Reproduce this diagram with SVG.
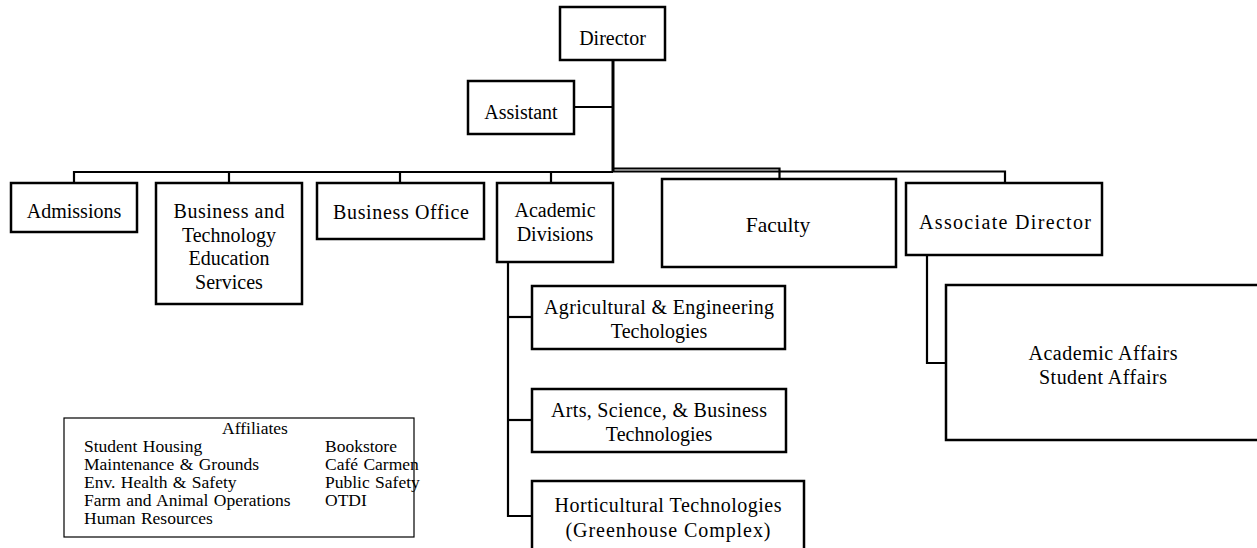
<svg xmlns="http://www.w3.org/2000/svg" width="1257" height="548" viewBox="0 0 1257 548">
<style>
.box{fill:#fff;stroke:#000;stroke-width:2.5}
.ln{fill:none;stroke:#000;stroke-width:2.2}
text{font-family:"Liberation Serif","Times New Roman",serif}
.t{font-size:20px;fill:#000;text-anchor:middle;dominant-baseline:central}
.a{font-size:17.5px;fill:#000;word-spacing:1px}
</style>
<rect width="1257" height="548" fill="#fff"/>
<g id="connectors">
<path class="ln" d="M613,60 V172" style="stroke-width:3"/>
<path class="ln" d="M574,107 H613"/>
<path class="ln" d="M74,183 V172 H613"/>
<path class="ln" d="M229,172 V183"/>
<path class="ln" d="M400,172 V183"/>
<path class="ln" d="M551,172 V183"/>
<path class="ln" d="M613,168.5 H779.5 V179"/>
<path class="ln" d="M613,171.5 H1005 V183"/>
<path class="ln" d="M508,262 V516 H532"/>
<path class="ln" d="M508,317 H532"/>
<path class="ln" d="M508,420 H532"/>
<path class="ln" d="M927,255 V363 H946"/>
</g>
<g id="director"><rect class="box" x="560" y="7" width="105" height="53"/><text class="t" x="612.5" y="37.5">Director</text></g>
<g id="assistant"><rect class="box" x="468" y="81" width="106" height="53"/><text class="t" x="521" y="111.5">Assistant</text></g>
<g id="admissions"><rect class="box" x="11" y="183" width="126" height="49"/><text class="t" x="74" y="211">Admissions</text></g>
<g id="btes"><rect class="box" x="156" y="183" width="146" height="121"/>
<text class="t" x="229" y="211" textLength="111" lengthAdjust="spacing">Business and</text>
<text class="t" x="229" y="234.5">Technology</text>
<text class="t" x="229" y="258">Education</text>
<text class="t" x="229" y="281.5">Services</text></g>
<g id="business-office"><rect class="box" x="317" y="183" width="167" height="56"/><text class="t" x="401" y="212" textLength="136" lengthAdjust="spacing">Business Office</text></g>
<g id="academic-divisions"><rect class="box" x="497" y="183" width="116" height="79"/>
<text class="t" x="555" y="210">Academic</text>
<text class="t" x="555" y="234">Divisions</text></g>
<g id="faculty"><rect class="box" x="662" y="179" width="234" height="88"/><text class="t" x="778" y="225" style="font-size:21.5px">Faculty</text></g>
<g id="associate-director"><rect class="box" x="906" y="183" width="196" height="72"/><text class="t" x="1005" y="222" textLength="172" lengthAdjust="spacing">Associate Director</text></g>
<g id="agricultural"><rect class="box" x="532" y="286" width="253" height="63"/>
<text class="t" x="659" y="307" textLength="230" lengthAdjust="spacing">Agricultural &amp; Engineering</text>
<text class="t" x="659" y="331">Techologies</text></g>
<g id="arts"><rect class="box" x="532" y="389" width="254" height="63"/>
<text class="t" x="659" y="410" textLength="216" lengthAdjust="spacing">Arts, Science, &amp; Business</text>
<text class="t" x="659" y="434">Technologies</text></g>
<g id="horticultural"><rect class="box" x="532" y="481" width="272" height="80"/>
<text class="t" x="668" y="505" textLength="227" lengthAdjust="spacing">Horticultural Technologies</text>
<text class="t" x="668" y="530" textLength="205" lengthAdjust="spacing">(Greenhouse Complex)</text></g>
<g id="affairs"><rect class="box" x="946" y="285" width="330" height="155"/>
<text class="t" x="1103" y="353" textLength="149" lengthAdjust="spacing">Academic Affairs</text>
<text class="t" x="1103" y="377" textLength="128" lengthAdjust="spacing">Student Affairs</text></g>
<g id="affiliates"><rect x="64" y="418" width="350" height="119" fill="#fff" stroke="#000" stroke-width="1.2"/>
<text class="a" x="255" y="434" text-anchor="middle">Affiliates</text>
<text class="a" x="84" y="452">Student Housing</text>
<text class="a" x="84" y="470">Maintenance &amp; Grounds</text>
<text class="a" x="84" y="488">Env. Health &amp; Safety</text>
<text class="a" x="84" y="506">Farm and Animal Operations</text>
<text class="a" x="84" y="524">Human Resources</text>
<text class="a" x="325" y="452">Bookstore</text>
<text class="a" x="325" y="470">Café Carmen</text>
<text class="a" x="325" y="488">Public Safety</text>
<text class="a" x="325" y="506">OTDI</text></g>
</svg>
